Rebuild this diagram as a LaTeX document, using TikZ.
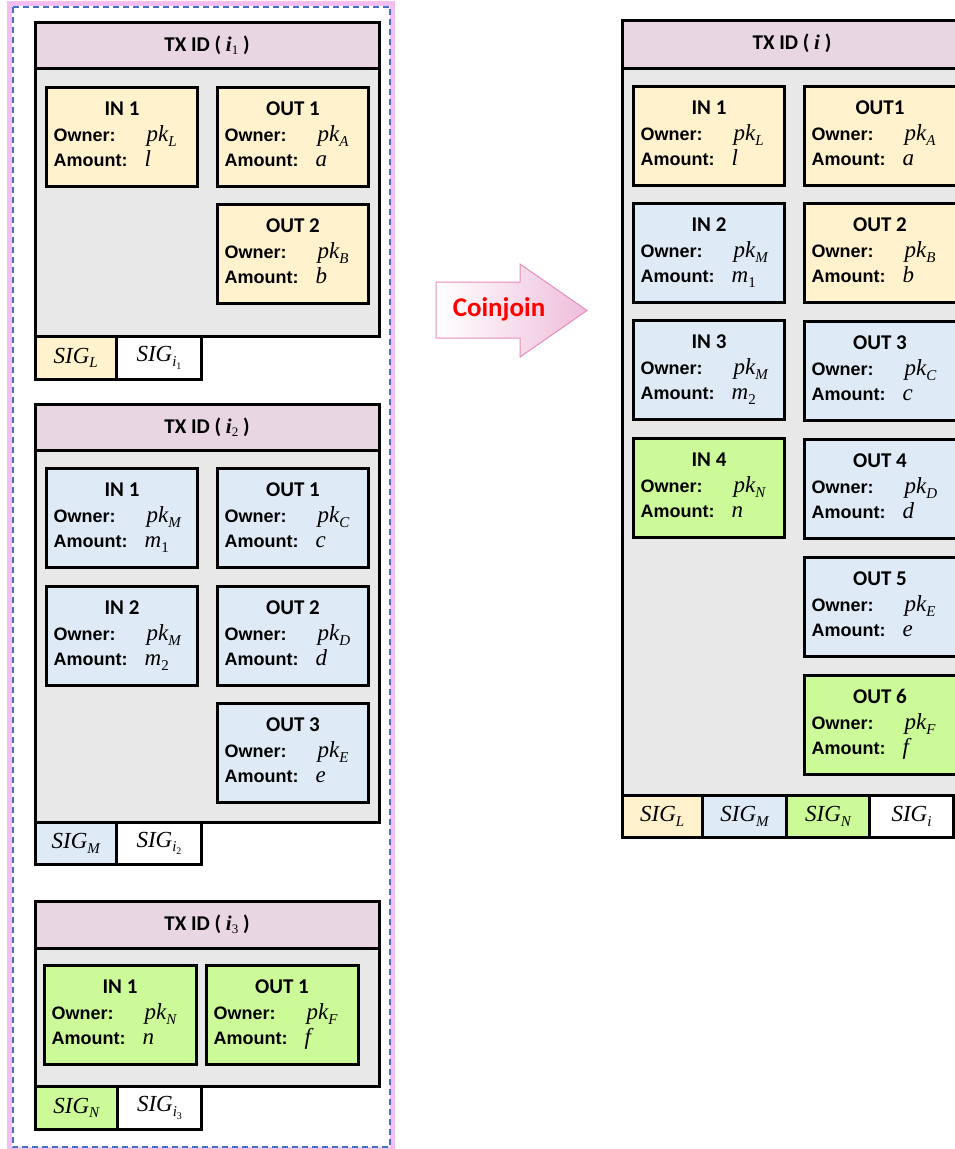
\documentclass[tikz,border=0pt]{standalone}
\usepackage{fontspec}
\setmainfont{Liberation Sans}
\newfontfamily\calb{Carlito}
\newfontfamily\tnr{Liberation Serif}
\usetikzlibrary{calc}
\definecolor{hdrpink}{RGB}{232,214,226}
\definecolor{bodygray}{RGB}{232,232,232}
\definecolor{cyel}{RGB}{255,242,204}
\definecolor{cblue}{RGB}{222,235,247}
\definecolor{cgreen}{RGB}{204,250,153}
\definecolor{arrowline}{RGB}{232,140,190}
\definecolor{arrowpink}{RGB}{238,190,218}
\definecolor{cjred}{RGB}{255,0,0}
\definecolor{glowpink}{RGB}{244,190,240}
\definecolor{dashblue}{RGB}{68,114,196}
\newcommand\subx[1]{\raisebox{-4.5pt}{\fontsize{15}{15}\selectfont #1}}
\newcommand\subsubx[1]{\raisebox{-3pt}{\fontsize{10}{10}\selectfont\upshape #1}}
\newcommand\hsub[1]{\raisebox{-3pt}{\mdseries\upshape\fontsize{13}{13}\selectfont #1}}
\newcommand\hi[1]{{\tnr\bfseries\itshape #1}}
\newcommand\pkv[1]{pk\subx{#1}}
\tikzset{
 iobox/.style={draw=black, line width=3.5pt, minimum height=99pt, anchor=north west, inner sep=0pt, outer sep=0pt},
 ttl/.style={font=\calb\bfseries\fontsize{21}{21}\selectfont, inner sep=0pt, anchor=base},
 lbl/.style={font=\bfseries\fontsize{18}{18}\selectfont, inner sep=0pt, anchor=base west},
 val/.style={font=\tnr\itshape\fontsize{23}{23}\selectfont, inner sep=0pt, anchor=base west},
 hdr/.style={draw=black, fill=hdrpink, line width=3pt, anchor=north west, inner sep=0pt, font=\calb\bfseries\fontsize{21}{21}\selectfont},
 body/.style={draw=black, fill=bodygray, line width=3pt, anchor=north west, inner sep=0pt},
 sig/.style={draw=black, line width=3pt, anchor=north west, inner sep=0pt, font=\tnr\itshape\fontsize{23}{23}\selectfont},
}
% name, x, y, width, fill, title, owner, amount
\newcommand\iob[8]{%
 \node[iobox, fill=#5, minimum width=#4pt] (#1) at (#2,#3) {};
 \node[ttl] (#1t) at ($(#1.north west)+(75.5,28)$) {#6};
 \node[lbl] (#1o) at ($(#1.north west)+(7,54)$) {Owner:};
 \node[lbl] (#1a) at ($(#1.north west)+(7,79)$) {Amount:};
 \node[val] (#1ov) at ($(#1.north west)+(100,54)$) {#7};
 \node[val] (#1av) at ($(#1.north west)+(98,79)$) {#8};
}
\begin{document}
\begin{tikzpicture}[x=1pt,y=-1pt]
\useasboundingbox (0,0) rectangle (955,1149);
\clip (0,0) rectangle (955,1149);
\fill[white] (0,0) rectangle (955,1149);
% outer dashed frame with glow
\draw[line width=4.5pt, glowpink] (9.5,3.5) rectangle (392.5,1149.5);
\draw[line width=2pt, dashblue, dash pattern=on 6pt off 4pt] (12.5,6.5) rectangle (390,1147);

% ---------- TX 1 ----------
\node[body, minimum width=344pt, minimum height=268pt] (t1b) at (33.5,67) {};
\node[hdr, minimum width=344pt, minimum height=46.5pt] (t1h) at (33.5,20.5) {TX ID ( \hi{i\hsub{1}} )};
\iob{t1i1}{46.5}{87.5}{151}{cyel}{IN 1}{\pkv{L}}{l}
\iob{t1o1}{217.5}{87.5}{151}{cyel}{OUT 1}{\pkv{A}}{a}
\iob{t1o2}{217.5}{204.5}{151}{cyel}{OUT 2}{\pkv{B}}{b}
\node[sig, fill=cyel, minimum width=81.5pt, minimum height=42.5pt] (t1s1) at (33.5,335) {SIG\subx{L}};
\node[sig, fill=white, minimum width=85pt, minimum height=42.5pt] (t1s2) at (115,335) {SIG\subx{i\subsubx{1}}};

% ---------- TX 2 ----------
\node[body, minimum width=344pt, minimum height=372.5pt] (t2b) at (33.5,448.5) {};
\node[hdr, minimum width=344pt, minimum height=46pt] (t2h) at (33.5,402.5) {TX ID ( \hi{i\hsub{2}} )};
\iob{t2i1}{46.5}{468.5}{151}{cblue}{IN 1}{\pkv{M}}{m\subx{\upshape 1}}
\iob{t2o1}{217.5}{468.5}{151}{cblue}{OUT 1}{\pkv{C}}{c}
\iob{t2i2}{46.5}{586.5}{151}{cblue}{IN 2}{\pkv{M}}{m\subx{\upshape 2}}
\iob{t2o2}{217.5}{586.5}{151}{cblue}{OUT 2}{\pkv{D}}{d}
\iob{t2o3}{217.5}{703.5}{151}{cblue}{OUT 3}{\pkv{E}}{e}
\node[sig, fill=cblue, minimum width=81.5pt, minimum height=42pt] (t2s1) at (33.5,821) {SIG\subx{M}};
\node[sig, fill=white, minimum width=85pt, minimum height=42pt] (t2s2) at (115,821) {SIG\subx{i\subsubx{2}}};

% ---------- TX 3 ----------
\node[body, minimum width=344pt, minimum height=138.5pt] (t3b) at (33.5,946.5) {};
\node[hdr, minimum width=344pt, minimum height=47pt] (t3h) at (33.5,899.5) {TX ID ( \hi{i\hsub{3}} )};
\iob{t3i1}{44.5}{965.5}{152}{cgreen}{IN 1}{\pkv{N}}{n}
\iob{t3o1}{206.5}{965.5}{152}{cgreen}{OUT 1}{\pkv{F}}{f}
\node[sig, fill=cgreen, minimum width=82.5pt, minimum height=42.5pt] (t3s1) at (33.5,1085) {SIG\subx{N}};
\node[sig, fill=white, minimum width=84pt, minimum height=42.5pt] (t3s2) at (116,1085) {SIG\subx{i\subsubx{3}}};

% ---------- Arrow ----------
\path[draw=arrowline, line width=1pt, left color=white, right color=arrowpink]
 (436,282) -- (520,282) -- (520,264) -- (587,310.5) -- (520,357) -- (520,338) -- (436,338) -- cycle;
\node[font=\calb\bfseries\fontsize{27}{27}\selectfont, text=cjred, inner sep=0pt] (cj) at (499,309) {Coinjoin};

% ---------- Result TX ----------
\node[body, minimum width=352pt, minimum height=727pt] (rb) at (620.5,67) {};
\node[hdr, minimum width=352pt, minimum height=48.5pt] (rh) at (620.5,18.5) {};
\node[font=\calb\bfseries\fontsize{21}{21}\selectfont, inner sep=0pt] (rht) at (792,43) {TX ID ( \hi{i} )};
\iob{ri1}{633.5}{86.5}{151}{cyel}{IN 1}{\pkv{L}}{l}
\iob{ri2}{633.5}{203.5}{151}{cblue}{IN 2}{\pkv{M}}{m\subx{\upshape 1}}
\iob{ri3}{633.5}{320.5}{151}{cblue}{IN 3}{\pkv{M}}{m\subx{\upshape 2}}
\iob{ri4}{633.5}{438.5}{151}{cgreen}{IN 4}{\pkv{N}}{n}
\iob{ro1}{804.5}{86.5}{157}{cyel}{OUT1}{\pkv{A}}{a}
\iob{ro2}{804.5}{203.5}{157}{cyel}{OUT 2}{\pkv{B}}{b}
\iob{ro3}{804.5}{321.5}{157}{cblue}{OUT 3}{\pkv{C}}{c}
\iob{ro4}{804.5}{439.5}{157}{cblue}{OUT 4}{\pkv{D}}{d}
\iob{ro5}{804.5}{557.5}{157}{cblue}{OUT 5}{\pkv{E}}{e}
\iob{ro6}{804.5}{675.5}{157}{cgreen}{OUT 6}{\pkv{F}}{f}
\node[sig, fill=cyel, minimum width=80.5pt, minimum height=41.5pt] (rs1) at (620.5,794) {SIG\subx{L}};
\node[sig, fill=cblue, minimum width=84pt, minimum height=41.5pt] (rs2) at (701,794) {SIG\subx{M}};
\node[sig, fill=cgreen, minimum width=83pt, minimum height=41.5pt] (rs3) at (785,794) {SIG\subx{N}};
\node[sig, fill=white, minimum width=84pt, minimum height=41.5pt] (rs4) at (868,794) {SIG\subx{i}};
\end{tikzpicture}
\end{document}
